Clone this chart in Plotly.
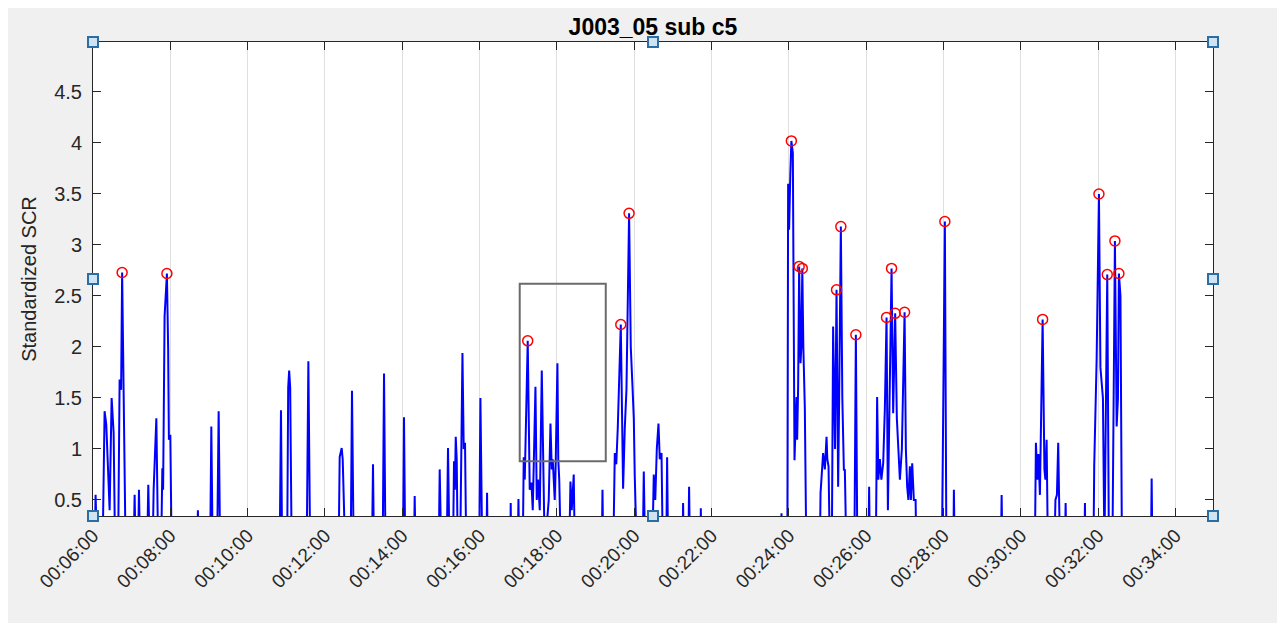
import plotly.graph_objects as go

# ---------------- data (time in seconds, standardized SCR) ----------------
scr_time = [
    360.0, 362.5, 364.0, 366.4,
    374.9, 378.0, 380.6, 383.4, 385.8, 388.9, 390.4, 392.0, 394.3,
    399.0, 401.3, 403.6, 405.2, 410.6,
    423.0, 424.6, 426.1, 430.0, 431.3, 433.1,
    444.0, 445.8, 447.9,
    452.5, 454.1, 458.3, 461.1,
    465.7, 467.6, 468.8, 471.1, 474.7, 476.6, 477.8, 480.0, 482.0,
    521.6, 522.8, 523.9,
    541.8, 543.6, 545.7,
    552.6, 555.0, 557.3,
    649.7, 651.7, 653.5,
    661.3, 662.9, 664.4, 666.0, 668.3,
    691.6, 694.2, 697.0,
    741.2, 742.8, 745.9, 747.5, 751.3,
    759.9, 761.9, 764.5,
    792.9, 794.5, 796.0,
    809.5, 811.6, 813.9,
    841.1, 842.6, 844.5,
    858.1, 859.2, 860.5,
    896.5, 898.0, 900.4,
    908.9, 910.9, 913.2,
    918.7, 920.2, 921.6, 922.9, 924.4, 926.0, 929.8, 933.3, 935.3, 937.3, 939.2,
    959.3, 961.2, 964.0,
    970.5, 971.5, 972.5,
    1007.5, 1008.2, 1009.0,
    1019.1, 1020.2, 1021.4,
    1026.9, 1028.4, 1030.0, 1034.6, 1037.7, 1040.4, 1042.4, 1046.6, 1048.6, 1050.6, 1053.3, 1056.4,
    1058.7, 1061.0, 1067.2, 1069.9, 1071.9, 1073.4, 1076.5, 1078.1, 1080.7, 1082.0, 1083.5, 1085.9,
    1099.0, 1100.9, 1102.9, 1106.0, 1107.6,
    1149.5, 1150.6, 1151.8,
    1167.4, 1169.7, 1172.0, 1174.3, 1179.0, 1182.6, 1185.2, 1187.8, 1191.9, 1194.5, 1197.2, 1199.2, 1200.7, 1203.8,
    1213.1, 1214.7, 1216.7,
    1227.9, 1230.2, 1232.5, 1234.9, 1237.5, 1239.5, 1242.2, 1244.2,
    1249.6, 1250.9, 1252.4,
    1274.9, 1275.7, 1276.8,
    1283.8, 1285.0, 1286.4,
    1302.4, 1303.2, 1304.0,
    1427.4, 1428.4, 1429.7,
    1437.5, 1438.7, 1440.2, 1442.1, 1443.7, 1446.0, 1448.6, 1450.6, 1451.7, 1452.7, 1454.2, 1455.8,
    1457.9, 1459.2, 1460.7, 1462.3, 1463.5, 1464.6, 1466.9,
    1487.9, 1489.0, 1491.0, 1493.0, 1495.7, 1498.3, 1499.5, 1501.4, 1503.4,
    1506.5, 1508.5, 1510.4, 1511.5, 1513.8, 1516.3, 1517.9, 1520.5, 1522.8, 1525.2, 1526.7, 1529.0,
    1541.5, 1543.8, 1546.1,
    1563.2, 1564.4, 1565.5,
    1574.8, 1576.8, 1578.7, 1581.0, 1583.4, 1586.2, 1588.8, 1591.4, 1593.5, 1595.0, 1599.2, 1601.7, 1604.8,
    1607.4, 1609.4, 1612.1, 1615.2, 1619.4, 1621.4, 1623.4, 1625.3, 1627.6, 1629.2, 1631.2, 1633.8, 1636.5, 1637.7,
    1677.3, 1678.8, 1681.9, 1684.3,
    1695.1, 1695.9, 1697.2,
    1768.9, 1770.0, 1771.2,
    1821.6, 1823.2, 1825.5, 1827.1, 1829.4, 1833.6, 1836.4, 1837.9, 1839.8, 1841.8,
    1851.9, 1853.5, 1855.8, 1857.8, 1860.5,
    1868.2, 1869.3, 1870.5,
    1898.5, 1899.3, 1900.0,
    1912.5, 1913.7, 1917.4, 1921.0, 1923.3, 1925.2, 1927.2, 1929.5, 1933.9, 1936.5, 1941.9, 1945.8,
    1948.5, 1950.5, 1952.0, 1954.4, 1956.7,
    2001.7, 2002.8, 2004.0,
    2098.0,
]

scr_value = [
    0.0, 0.0, 0.55, 0.0,
    0.0, 1.37, 1.24, 0.75, 0.4, 1.5, 1.3, 1.16, 0.0,
    0.0, 1.68, 1.58, 2.73, 0.0,
    0.0, 0.55, 0.0, 0.0, 0.6, 0.0,
    0.0, 0.65, 0.0,
    0.0, 0.6, 1.3, 0.0,
    0.0, 0.81, 0.6, 2.3, 2.72, 2.0, 1.09, 1.14, 0.0,
    0.0, 0.4, 0.0,
    0.0, 1.22, 0.0,
    0.0, 1.37, 0.0,
    0.0, 1.38, 0.0,
    0.0, 1.6, 1.77, 1.6, 0.0,
    0.0, 1.86, 0.0,
    0.0, 0.92, 1.01, 0.9, 0.0,
    0.0, 1.57, 0.0,
    0.0, 0.85, 0.0,
    0.0, 1.74, 0.0,
    0.0, 1.31, 0.0,
    0.0, 0.54, 0.0,
    0.0, 0.8, 0.0,
    0.0, 1.01, 0.0,
    0.0, 0.88, 0.6, 1.12, 0.9, 0.0, 0.0, 1.94, 1.0, 1.06, 0.0,
    0.0, 1.5, 0.0,
    0.0, 0.57, 0.0,
    0.0, 0.47, 0.0,
    0.0, 0.51, 0.0,
    0.0, 0.92, 0.7, 2.06, 0.6, 0.67, 0.4, 1.61, 0.5, 0.7, 0.4, 1.77,
    0.5, 0.0, 0.5, 1.25, 0.8, 0.9, 0.5, 0.9, 1.84, 0.9, 0.7, 0.0,
    0.0, 0.68, 0.4, 0.75, 0.0,
    0.0, 0.6, 0.0,
    0.0, 0.96, 0.85, 1.2, 2.22, 0.61, 1.2, 1.58, 3.31, 2.0, 1.61, 1.3, 0.73, 0.0,
    0.0, 0.78, 0.0,
    0.0, 0.75, 0.5, 1.0, 1.25, 0.9, 0.96, 0.0,
    0.0, 0.92, 0.0,
    0.0, 0.47, 0.0,
    0.0, 0.63, 0.0,
    0.0, 0.42, 0.0,
    0.0, 0.37, 0.0,
    0.0, 3.6, 3.15, 3.7, 4.02, 3.9, 0.89, 1.3, 1.51, 1.09, 1.6, 2.79,
    1.84, 2.0, 2.77, 2.0, 1.77, 1.4, 0.0,
    0.0, 0.57, 0.8, 0.96, 0.8, 1.12, 0.9, 0.83, 0.0,
    0.0, 2.2, 1.6, 1.0, 2.56, 0.63, 1.5, 3.18, 1.5, 0.79, 0.8, 0.0,
    0.0, 2.12, 0.0,
    0.0, 0.63, 0.0,
    0.0, 1.51, 0.7, 0.9, 0.7, 0.86, 1.4, 2.29, 0.4, 1.0, 2.77, 1.35, 2.33,
    1.3, 1.09, 0.7, 1.0, 2.34, 1.0, 0.63, 0.5, 0.83, 0.5, 0.86, 0.5, 0.5, 0.0,
    0.0, 1.0, 3.23, 0.0,
    0.0, 0.6, 0.0,
    0.0, 0.55, 0.0,
    0.0, 1.06, 0.7, 0.95, 0.55, 2.27, 0.8, 0.7, 1.09, 0.0,
    0.0, 0.5, 0.55, 1.06, 0.0,
    0.0, 0.47, 0.0,
    0.0, 0.47, 0.0,
    0.0, 0.84, 1.87, 3.5, 1.8, 1.64, 1.5, 0.0, 2.71, 0.0, 0.0, 3.04,
    1.22, 1.5, 2.72, 2.5, 0.0,
    0.0, 0.71, 0.0,
    0.0,
]

# detected peaks (times; values are taken from the series)
peak_time = [405.2, 474.7, 1034.6, 1179.0, 1191.9, 1443.7, 1455.8, 1460.7, 1513.8,
             1520.5, 1543.8, 1591.4, 1599.2, 1604.8, 1619.4, 1681.9, 1833.6, 1921.0,
             1933.9, 1945.8, 1952.0]

# selection box drawn on the axes (time range, SCR range)
box_time = [1022.2, 1155.7]
box_value = [0.88, 2.62]

x_tick_vals = [360, 480, 600, 720, 840, 960, 1080, 1200, 1320, 1440, 1560, 1680, 1800, 1920, 2040]
x_tick_text = ["00:06:00", "00:08:00", "00:10:00", "00:12:00", "00:14:00", "00:16:00",
               "00:18:00", "00:20:00", "00:22:00", "00:24:00", "00:26:00", "00:28:00",
               "00:30:00", "00:32:00", "00:34:00"]
y_tick_vals = [0.5, 1, 1.5, 2, 2.5, 3, 3.5, 4, 4.5]
y_tick_text = ["0.5", "1", "1.5", "2", "2.5", "3", "3.5", "4", "4.5"]

x_range = [360, 2098]
y_range = [0.343, 4.99]

if len(scr_time) != len(scr_value):
    raise ValueError(f"length mismatch {len(scr_time)} vs {len(scr_value)}")

lookup = dict(zip(scr_time, scr_value))
peak_value = [lookup[t] for t in peak_time]

FONT = "Liberation Sans, Arial, sans-serif"
AX = "#262626"

fig = go.Figure()
fig.add_trace(go.Scatter(x=scr_time, y=scr_value, mode="lines",
                         line=dict(color="#0000ff", width=2), showlegend=False,
                         hoverinfo="skip"))
fig.add_trace(go.Scatter(x=peak_time, y=peak_value, mode="markers",
                         marker=dict(symbol="circle-open", size=10, color="#ff0000",
                                     line=dict(width=1.5, color="#ff0000")),
                         showlegend=False, cliponaxis=False))

# page has an 8px body margin: figure origin sits at (8, 8) in the window
OFF = 8
W, H = 1277, 621
L, R, T, B = 85, 72, 34, 113
pw, ph = W - L - R, H - T - B

shapes = []
# grey figure panel + white axes area
shapes.append(dict(type="rect", xref="paper", yref="paper", layer="below",
                   x0=(6 - OFF - L) / pw, x1=(1278 - OFF - L) / pw,
                   y0=-(623 - OFF - (T + ph)) / ph, y1=1 + (T - (6 - OFF)) / ph,
                   fillcolor="#f0f0f0", line=dict(width=0)))
shapes.append(dict(type="rect", xref="paper", yref="paper", layer="below",
                   x0=0, x1=1, y0=0, y1=1, fillcolor="#ffffff", line=dict(width=0)))
# selection rectangle
shapes.append(dict(type="rect", xref="x", yref="y", layer="above",
                   x0=box_time[0], x1=box_time[1], y0=box_value[0], y1=box_value[1],
                   line=dict(color="#6b6b6b", width=2), fillcolor="rgba(0,0,0,0)"))
# edit handles
for hx in (0, 0.5, 1):
    for hy in (0, 0.5, 1):
        if hx == 0.5 and hy == 0.5:
            continue
        shapes.append(dict(type="rect", xref="paper", yref="paper", layer="above",
                           xsizemode="pixel", ysizemode="pixel",
                           xanchor=hx, yanchor=hy, x0=-5, x1=5, y0=-5, y1=5,
                           fillcolor="#cfe3f3", line=dict(color="#2b6ea3", width=2)))

fig.update_layout(
    width=W, height=H, autosize=False,
    margin=dict(l=L, r=R, t=T, b=B, pad=0),
    paper_bgcolor="#ffffff", plot_bgcolor="#ffffff",
    font=dict(family=FONT, color=AX, size=20),
    title=dict(text="<b>J003_05 sub c5</b>", x=0.5, xref="paper", xanchor="center",
               y=1 - (27 - OFF) / H, yref="container", yanchor="middle",
               font=dict(family=FONT, size=23, color="#000000")),
    shapes=shapes,
    showlegend=False,
)
fig.update_xaxes(range=x_range, tickvals=x_tick_vals, ticktext=x_tick_text,
                 tickangle=-45, ticks="inside", ticklen=8, tickcolor=AX, tickwidth=1,
                 showline=True, linecolor=AX, linewidth=1, mirror="ticks",
                 showgrid=True, gridcolor="#dfdfdf", gridwidth=1, zeroline=False,
                 tickfont=dict(family=FONT, size=19, color=AX))
fig.update_yaxes(range=y_range, tickvals=y_tick_vals, ticktext=y_tick_text,
                 ticks="inside", ticklen=8, tickcolor=AX, tickwidth=1,
                 showline=True, linecolor=AX, linewidth=1, mirror="ticks",
                 showgrid=False, zeroline=False, ticklabelstandoff=6,
                 tickfont=dict(family=FONT, size=20, color=AX),
                 title=dict(text="Standardized SCR", standoff=12,
                            font=dict(family=FONT, size=20, color=AX)))

fig.write_html("out.html")
